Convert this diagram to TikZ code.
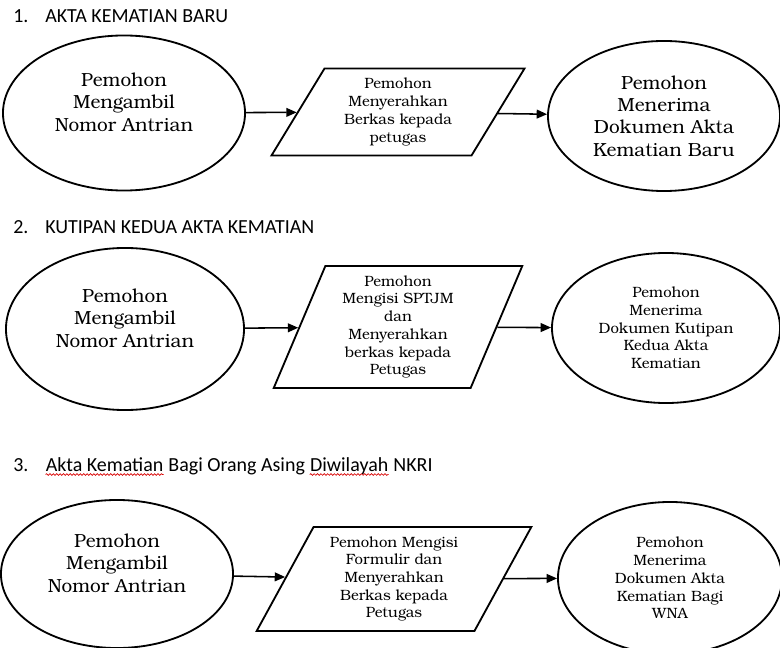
\documentclass[tikz,border=0pt]{standalone}
\usepackage{fontspec}
\usepackage{xcolor}
\usepackage{tikz}
\usetikzlibrary{arrows.meta, positioning, calc, shapes.geometric, decorations.pathmorphing}
\newfontfamily\titlefont{Carlito}
\newfontfamily\bk{TeX Gyre Bonum}
\newcommand{\bigtxt}{\bk\fontsize{13.5}{15.8}\selectfont}
\newcommand{\smalltxt}{\bk\fontsize{10.6}{12.6}\selectfont}
\tikzset{
  heading/.style={anchor=base west, inner sep=0pt, font=\titlefont\fontsize{14.2}{16}\selectfont},
  startend/.style={draw, ellipse, line width=1.3pt, inner sep=0pt, align=center, font=\bigtxt},
  inout/.style={draw, trapezium, trapezium left angle=#1, trapezium right angle=180-#1, trapezium stretches=true,
    line width=1.3pt, inner sep=0pt, align=center, font=\smalltxt},
  flow/.style={-{Triangle[length=2.6mm, width=2.2mm]}, line width=1.1pt},
  squiggle/.style={red!85!black, line width=0.5pt, decorate, decoration={snake, amplitude=0.6pt, segment length=2.4pt}}
}

\begin{document}
\begin{tikzpicture}[x=0.025cm, y=-0.025cm]
        \fill[white] (0,0) rectangle (780,648);
        \useasboundingbox (0,0) rectangle (780,648);

        % Titles
        \node[heading] (h1) at (13,23) {\makebox[0.8cm][l]{1.}AKTA KEMATIAN BARU};
        \node[heading] (h2) at (13,234) {\makebox[0.8cm][l]{2.}KUTIPAN KEDUA AKTA KEMATIAN};
        \node[heading] (h3) at (13,471) {\makebox[0.8cm][l]{3.}};
        \node[heading] (h3a) at (h3.base east) {Akta Kematian};
        \node[heading] (h3b) at (h3a.base east) {\ Bagi Orang Asing\ \mbox{}};
        \node[heading] (h3c) at (h3b.base east) {Diwilayah};
        \node[heading] (h3d) at (h3c.base east) {\ NKRI};
        \draw[squiggle] ([yshift=-2.5pt]h3a.base west) -- ([yshift=-2.5pt]h3a.base east);
        \draw[squiggle] ([yshift=-2.5pt]h3c.base west) -- ([yshift=-2.5pt]h3c.base east);

        % Row 1
        \node[startend, minimum width=6.05cm, minimum height=3.875cm, text depth=0.55cm] (l1) at (124,113) {Pemohon\\Mengambil\\Nomor Antrian};
        \node[inout=60, minimum width=6.325cm, minimum height=2.175cm] (p1) at (398,112) {Pemohon\\Menyerahkan\\Berkas kepada\\petugas};
        \node[startend, minimum width=5.8cm, minimum height=3.75cm] (r1) at (664,116) {Pemohon\\Menerima\\Dokumen Akta\\Kematian Baru};

        % Row 2
        \node[startend, minimum width=5.95cm, minimum height=4.05cm, text depth=0.55cm] (l2) at (125,329) {Pemohon\\Mengambil\\Nomor Antrian};
        \node[inout=69, minimum width=6.225cm, minimum height=3.05cm] (p2) at (398,327) {Pemohon\\Mengisi SPTJM\\dan\\Menyerahkan\\berkas kepada\\Petugas};
        \node[startend, minimum width=5.7cm, minimum height=3.75cm, font=\smalltxt] (r2) at (666,328) {Pemohon\\Menerima\\Dokumen Kutipan\\Kedua Akta\\Kematian};

        % Row 3
        \node[startend, minimum width=5.8cm, minimum height=3.7cm, text depth=0.55cm] (l3) at (117,574) {Pemohon\\Mengambil\\Nomor Antrian};
        \node[inout=62, minimum width=6.875cm, minimum height=2.6cm] (p3) at (394,579) {Pemohon Mengisi\\Formulir dan\\Menyerahkan\\Berkas kepada\\Petugas};
        \node[startend, minimum width=5.6cm, minimum height=3.8cm, font=\smalltxt] (r3) at (670,578) {Pemohon\\Menerima\\Dokumen Akta\\Kematian Bagi\\WNA};

        % Links
        \draw[flow] (l1) -- (p1);
        \draw[flow] (p1) -- (r1);
        \draw[flow] (l2) -- (p2);
        \draw[flow] (p2) -- (r2);
        \draw[flow] (l3) -- (p3);
        \draw[flow] (p3) -- (r3);
\end{tikzpicture}
\end{document}
